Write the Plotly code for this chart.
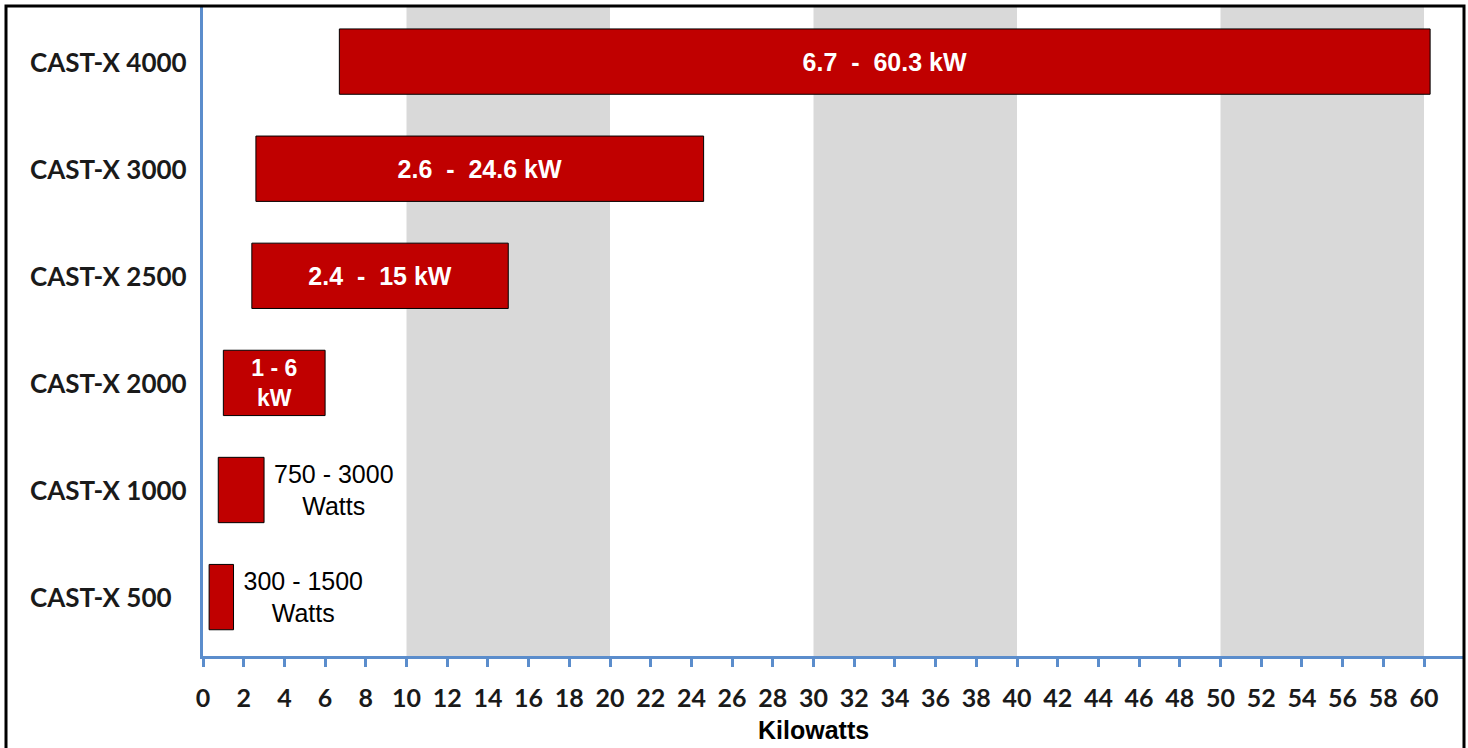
import plotly.graph_objects as go

# ---- data ----
models = ["CAST-X 500", "CAST-X 1000", "CAST-X 2000", "CAST-X 2500", "CAST-X 3000", "CAST-X 4000"]
start_kw = [0.3, 0.75, 1.0, 2.4, 2.6, 6.7]
end_kw = [1.5, 3.0, 6.0, 15.0, 24.6, 60.3]
bar_labels = ["\u00a0300 - 1500<br>\u00a0Watts", "\u00a0750 - 3000<br>\u00a0Watts", "1 - 6<br>kW",
              "2.4\u00a0 - \u00a015 kW", "2.6\u00a0 - \u00a024.6 kW", "6.7\u00a0 - \u00a060.3 kW"]
label_pos = ["outside", "outside", "inside", "inside", "inside", "inside"]
inside_sizes = [25, 25, 23, 25, 25, 25]
band_ranges = [(10, 20), (30, 40), (50, 60)]
x_ticks = list(range(0, 61, 2))

BLUE = "#5b8dcc"
RED = "#c00000"

W, H = 1468, 748
ML, MR, MT, MB = 203, 5, 7, 92
PW = W - ML - MR
PH = H - MT - MB

def px_x(p):
    return (p - ML) / PW

def px_y(p):
    return (H - MB - p) / PH

lengths = [e - s for s, e in zip(start_kw, end_kw)]

fig = go.Figure()
fig.add_trace(go.Bar(
    y=models, x=lengths, base=start_kw, orientation="h",
    width=0.61,
    marker=dict(color=RED, line=dict(color="black", width=1)),
    text=bar_labels, textposition=label_pos, textangle=0,
    insidetextanchor="middle",
    insidetextfont=dict(family="Liberation Sans, Arial", size=inside_sizes, color="white", weight="bold"),
    outsidetextfont=dict(family="Liberation Sans, Arial", size=25, color="black"),
    constraintext="none",
    cliponaxis=False,
    hoverinfo="skip",
))

shapes = []
for a, b in band_ranges:
    shapes.append(dict(type="rect", xref="x", yref="paper", x0=a, x1=b, y0=0, y1=1,
                       fillcolor="#d9d9d9", line=dict(width=0), layer="below"))
# outer frame
shapes.append(dict(type="rect", xref="paper", yref="paper",
                   x0=px_x(6), x1=px_x(1464), y0=px_y(760), y1=px_y(6),
                   line=dict(color="black", width=3), fillcolor="rgba(0,0,0,0)"))

annotations = []
for m in models:
    annotations.append(dict(xref="paper", yref="y", x=px_x(28), y=m, xanchor="left", yanchor="middle",
                            text=m, showarrow=False,
                            font=dict(family="Lato", size=26, color="#1a1a1a", weight="bold")))
annotations.append(dict(xref="paper", yref="paper", x=px_x(813), y=px_y(730), xanchor="center",
                        yanchor="middle", text="Kilowatts", showarrow=False,
                        font=dict(family="Liberation Sans, Arial", size=25, color="black", weight="bold")))

fig.update_layout(
    width=W, height=H,
    margin=dict(l=ML, r=MR, t=MT, b=MB),
    paper_bgcolor="white", plot_bgcolor="white",
    showlegend=False,
    shapes=shapes, annotations=annotations,
    xaxis=dict(range=[0, PW / 20.35], tickvals=x_ticks, ticktext=[str(v) for v in x_ticks],
               showline=True, linecolor=BLUE, linewidth=3,
               ticks="outside", ticklen=8, tickwidth=3, tickcolor=BLUE,
               ticklabelstandoff=10,
               tickfont=dict(family="Lato", size=25, color="#1a1a1a", weight="bold"),
               showgrid=False, zeroline=False),
    yaxis=dict(categoryorder="array", categoryarray=models, range=[-0.55, 5.51],
               showline=True, linecolor=BLUE, linewidth=3, showticklabels=False,
               ticks="", showgrid=False, zeroline=False),
)

fig.write_html("out.html", config={"displayModeBar": False},
               post_script="document.body.style.margin='0px';")
